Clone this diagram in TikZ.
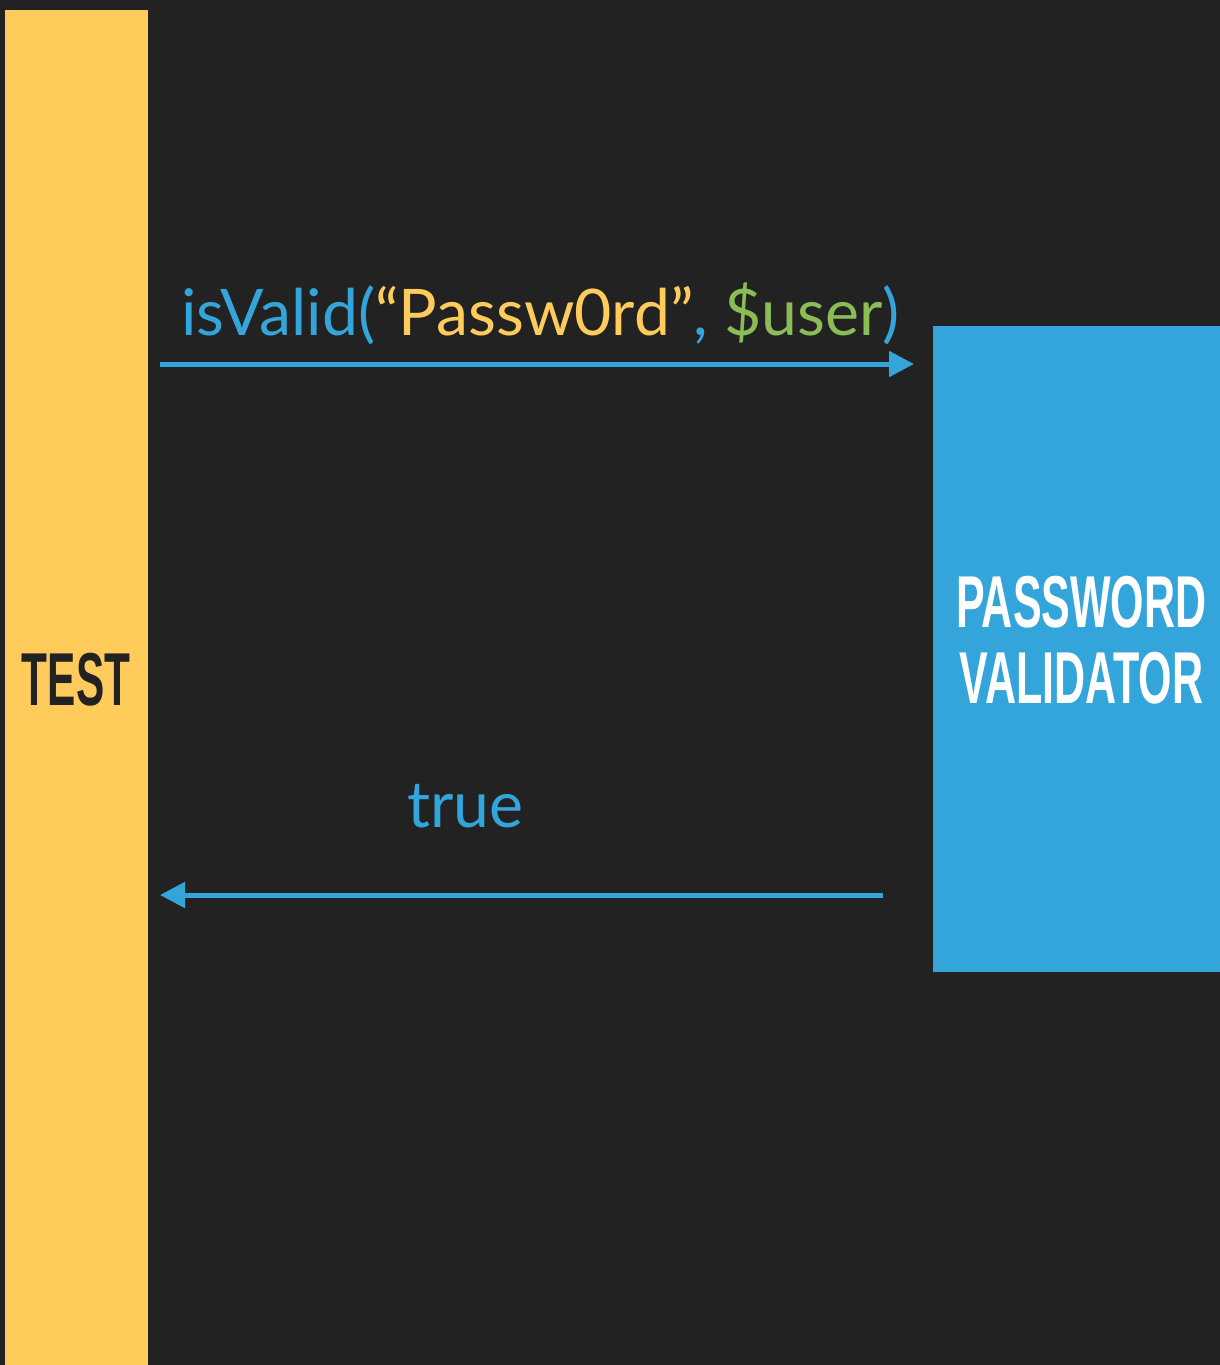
\documentclass[tikz,border=0pt]{standalone}
\usepackage{fontspec}
\usetikzlibrary{arrows.meta}
\newfontfamily\codefont{Lato}
\newfontfamily\testfont[FakeStretch=0.565]{Liberation Sans}
\newfontfamily\boxfont[FakeStretch=0.585]{Liberation Sans}
\definecolor{bg}{HTML}{222222}
\definecolor{testyellow}{HTML}{FFCC5C}
\definecolor{svcblue}{HTML}{34A5DA}
\definecolor{argreen}{HTML}{8BBD57}
\tikzset{
  bar/.style={rectangle, inner sep=0pt, outer sep=0pt},
  msg/.style={draw=svcblue, line width=5pt, -{Triangle[length=25pt,width=25pt]}},
  code/.style={inner sep=0pt, font=\codefont\fontsize{64.3}{64}\selectfont, text=svcblue},
}
\begin{document}
\begin{tikzpicture}[x=1pt,y=-1pt]
  \fill[bg] (0,0) rectangle (1220,1365);
  \useasboundingbox (0,0) rectangle (1220,1365);
  % participants
  \node[bar, fill=testyellow, minimum width=143pt, minimum height=1355pt] (test) at (76.5,687.5) {};
  \node[bar, fill=svcblue, minimum width=287pt, minimum height=646pt] (val) at (1076.5,649) {};
  \node[inner sep=0pt, text=bg, font=\testfont\bfseries\fontsize{75}{75}\selectfont] (testlbl) at (76,679.5) {TEST};
  \node[inner sep=0pt, text=white, align=center, font=\boxfont\bfseries\fontsize{73.5}{76}\selectfont] (vallbl) at (1081.5,640) {PASSWORD\\VALIDATOR};
  % messages
  \coordinate (callrow) at (0,364);
  \coordinate (retrow) at (0,895);
  \node[code, anchor=base west] (calltxt) at (181,335)
    {isValid({\color{testyellow}“Passw0rd”}, {\color{argreen}\$user})};
  \node[code, anchor=base west] (rettxt) at (407,827) {true};
  \draw[msg, shorten <=12pt, shorten >=19pt] (test.east |- callrow) -- (val.west |- callrow);
  \draw[msg, shorten <=50pt, shorten >=12pt] (val.west |- retrow) -- (test.east |- retrow);
\end{tikzpicture}
\end{document}
